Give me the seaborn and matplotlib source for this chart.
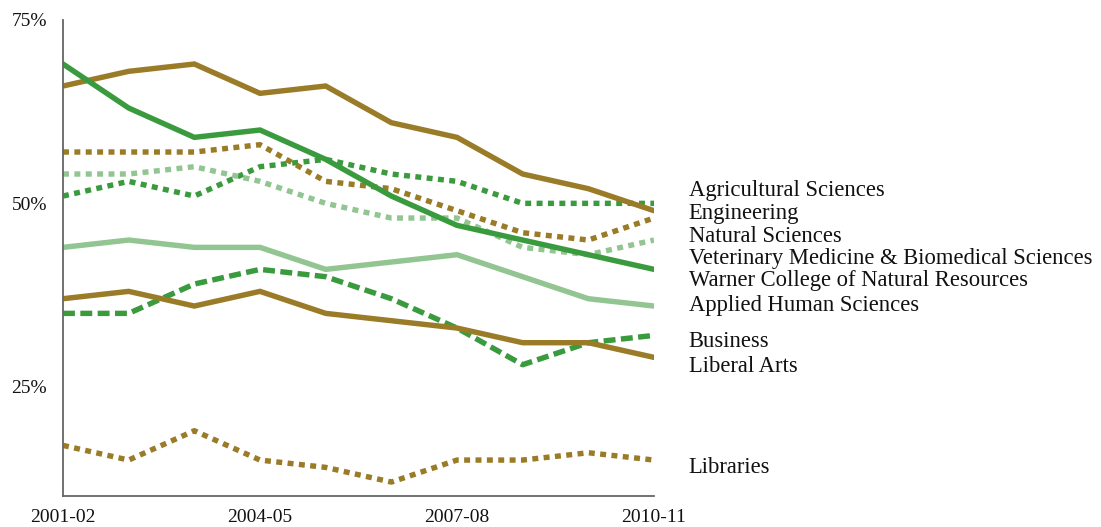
import pandas as pd
import numpy as np
import seaborn as sns
import matplotlib.pyplot as plt

# Share of students (%) by college, 2001-02 to 2010-11
years = ['2001-02', '2002-03', '2003-04', '2004-05', '2005-06',
         '2006-07', '2007-08', '2008-09', '2009-10', '2010-11']

agricultural = [51, 53, 51, 55, 56, 54, 53, 50, 50, 50]
engineering = [66, 68, 69, 65, 66, 61, 59, 54, 52, 49]
natural_sci = [57, 57, 57, 58, 53, 52, 49, 46, 45, 48]
vet_med = [54, 54, 55, 53, 50, 48, 48, 44, 43, 45]
warner = [69, 63, 59, 60, 56, 51, 47, 45, 43, 41]
applied_human = [44, 45, 44, 44, 41, 42, 43, 40, 37, 36]
business = [35, 35, 39, 41, 40, 37, 33, 28, 31, 32]
liberal_arts = [37, 38, 36, 38, 35, 34, 33, 31, 31, 29]
libraries = [17, 15, 19, 15, 14, 12, 15, 15, 16, 15]

colleges = ['Agricultural Sciences', 'Engineering', 'Natural Sciences',
            'Veterinary Medicine & Biomedical Sciences',
            'Warner College of Natural Resources', 'Applied Human Sciences',
            'Business', 'Liberal Arts', 'Libraries']
series = [agricultural, engineering, natural_sci, vet_med, warner,
          applied_human, business, liberal_arts, libraries]
# where each label sits on the y scale (spread out so they don't collide)
label_y = [51.8, 48.6, 45.5, 42.5, 39.5, 36.1, 31.2, 27.8, 14.0]

brown = '#9a7b28'
green = '#3a9a3e'
light = '#92c592'
palette = {'Agricultural Sciences': green, 'Engineering': brown,
           'Natural Sciences': brown,
           'Veterinary Medicine & Biomedical Sciences': light,
           'Warner College of Natural Resources': green,
           'Applied Human Sciences': light, 'Business': green,
           'Liberal Arts': brown, 'Libraries': brown}
dots = (1.1, 1.0)
dashes = {'Agricultural Sciences': dots, 'Engineering': '',
          'Natural Sciences': dots,
          'Veterinary Medicine & Biomedical Sciences': dots,
          'Warner College of Natural Resources': '',
          'Applied Human Sciences': '', 'Business': (2.2, 1.0),
          'Liberal Arts': '', 'Libraries': dots}

rows = []
for name, vals in zip(colleges, series):
    for i, v in enumerate(vals):
        rows.append({'College': name, 'x': i, 'Share': v})
df = pd.DataFrame(rows)

sns.set_style('white')
plt.rcParams['font.family'] = ['Liberation Serif', 'DejaVu Serif']

fig = plt.figure(figsize=(11.01, 5.27), dpi=100)
ax = fig.add_axes([63 / 1101, 31 / 527, 591 / 1101, 476 / 527])

sns.lineplot(data=df, x='x', y='Share', hue='College', style='College',
             palette=palette, dashes=dashes, linewidth=3.9, legend=False,
             ax=ax)
for line in ax.get_lines():
    line.set_dash_capstyle('butt')
    line.set_solid_joinstyle('miter')

ax.set_xlim(0, 9)
ax.set_ylim(10.1, 75)
ax.set_xticks([0, 3, 6, 9])
ax.set_xticklabels([years[i] for i in [0, 3, 6, 9]])
ax.set_yticks([25, 50, 75])
ax.set_yticklabels(['25%', '50%', '75%'])
ax.tick_params(axis='both', length=0, labelsize=14, colors='#111111')
ax.tick_params(axis='y', pad=11.5)
ax.tick_params(axis='x', pad=9)
ax.set_xlabel('')
ax.set_ylabel('')

sns.despine(ax=ax)
for s in ['left', 'bottom']:
    ax.spines[s].set_color('#666666')
    ax.spines[s].set_linewidth(1.3)

for name, y in zip(colleges, label_y):
    ax.text(9.53, y, name, fontsize=16.3, color='#111111', va='center',
            ha='left', clip_on=False)

plt.savefig('out.png', dpi=100)
